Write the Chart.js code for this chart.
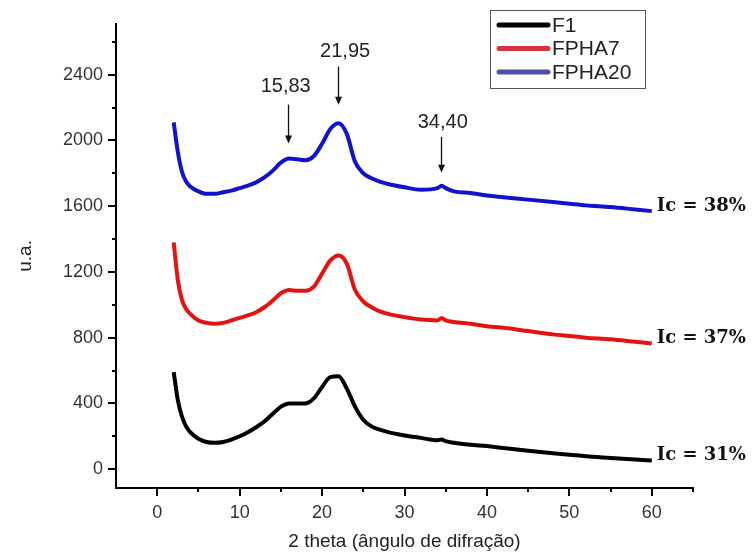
<!DOCTYPE html>
<html>
<head>
<meta charset="utf-8">
<script src="https://cdn.jsdelivr.net/npm/chart.js@4.4.0/dist/chart.umd.min.js"></script>
<style>
    html, body { margin: 0; padding: 0; background: #fff; }
    #wrap { width: 756px; height: 555px; }
</style>
</head>
<body>
<div id="wrap"><canvas id="xrdChart" width="756" height="555"></canvas></div>
<script>
// 2 theta (degrees)
const twoTheta = [2, 2.5, 3, 3.5, 4, 5, 6, 7, 8, 9, 10, 11, 12, 13, 14, 15, 16, 17, 18, 19, 20, 21, 22, 23, 24, 25, 26, 27, 28, 30, 32, 34, 34.5, 35, 36, 38, 40, 42, 45, 48, 50, 52, 55, 58, 60];

// intensities (u.a.)
const f1 = [590, 420, 320, 260, 225, 185, 165, 160, 165, 180, 200, 225, 255, 290, 335, 380, 400, 400, 400, 430, 500, 560, 565, 490, 380, 300, 260, 240, 225, 205, 190, 175, 180, 170, 160, 148, 140, 128, 112, 97, 88, 78, 68, 58, 52];
const fpha7 = [1380, 1150, 1030, 975, 945, 905, 890, 885, 890, 905, 920, 935, 955, 985, 1025, 1070, 1090, 1085, 1085, 1110, 1190, 1270, 1300, 1250, 1090, 1020, 985, 960, 945, 925, 910, 905, 920, 905, 895, 885, 870, 860, 840, 820, 810, 800, 790, 775, 765];
const fpha20 = [2110, 1930, 1810, 1750, 1720, 1690, 1675, 1675, 1685, 1695, 1710, 1725, 1745, 1775, 1815, 1865, 1890, 1885, 1880, 1905, 1980, 2070, 2105, 2040, 1870, 1800, 1770, 1750, 1735, 1715, 1700, 1710, 1725, 1710, 1690, 1680, 1665, 1655, 1640, 1625, 1615, 1605, 1595, 1580, 1570];

const seriesNames = ['F1', 'FPHA7', 'FPHA20'];
const seriesValues = [f1, fpha7, fpha20];
const crystallinity = ['Ic = 31%', 'Ic = 37%', 'Ic = 38%'];

// peak markers
const peakPositions = [15.83, 21.95, 34.40];
const peakLabels = ['15,83', '21,95', '34,40'];
const arrowTail = [2218, 2450, 2022];
const arrowTip = [1981, 2218, 1803];
const labelLevel = [2331, 2539, 2111];

// axis ticks
const xTicks = [0, 10, 20, 30, 40, 50, 60];
const xMinorTicks = [5, 15, 25, 35, 45, 55, 65];
const yTicks = [0, 400, 800, 1200, 1600, 2000, 2400];
const yMinorTicks = [200, 600, 1000, 1400, 1800, 2200, 2600];

const lineColors = ['#000000', '#e41212', '#1212cc'];
const legendColors = ['#000000', '#d4323c', '#4b4fa6'];
const sansFont = '"Liberation Sans", Arial, sans-serif';

// Minor and major tick marks drawn outside the plot
const tickMarks = {
    id: 'tickMarks',
    afterDraw(chart) {
        const { ctx, chartArea, scales: { x, y } } = chart;
        ctx.save();
        ctx.strokeStyle = '#000';
        ctx.lineWidth = 2;
        ctx.beginPath();
        xTicks.forEach(v => {
            const px = Math.round(x.getPixelForValue(v));
            ctx.moveTo(px, chartArea.bottom);
            ctx.lineTo(px, chartArea.bottom + 8);
        });
        xMinorTicks.forEach(v => {
            const px = Math.round(x.getPixelForValue(v));
            ctx.moveTo(px, chartArea.bottom);
            ctx.lineTo(px, chartArea.bottom + 4);
        });
        yTicks.forEach(v => {
            const py = Math.round(y.getPixelForValue(v));
            ctx.moveTo(chartArea.left, py);
            ctx.lineTo(chartArea.left - 8, py);
        });
        yMinorTicks.forEach(v => {
            const py = Math.round(y.getPixelForValue(v));
            ctx.moveTo(chartArea.left, py);
            ctx.lineTo(chartArea.left - 4, py);
        });
        ctx.stroke();
        ctx.restore();
    }
};

// Peak arrows, crystallinity labels and the boxed legend
const annotations = {
    id: 'annotations',
    afterDraw(chart) {
        const { ctx, scales: { x, y } } = chart;
        ctx.save();

        // arrows
        ctx.strokeStyle = '#111';
        ctx.fillStyle = '#111';
        ctx.lineWidth = 1.3;
        peakPositions.forEach((p, i) => {
            const px = Math.round(x.getPixelForValue(p)) + 0.5;
            const y0 = y.getPixelForValue(arrowTail[i]);
            const y1 = y.getPixelForValue(arrowTip[i]);
            ctx.beginPath();
            ctx.moveTo(px, y0);
            ctx.lineTo(px, y1 - 6);
            ctx.stroke();
            ctx.beginPath();
            ctx.moveTo(px - 3.5, y1 - 8);
            ctx.lineTo(px + 3.5, y1 - 8);
            ctx.lineTo(px, y1);
            ctx.closePath();
            ctx.fill();
        });

        ctx.fillStyle = '#222';
        ctx.font = '20px ' + sansFont;
        ctx.textAlign = 'center';
        ctx.textBaseline = 'middle';
        const labelShift = [-2, 7, 2];
        peakPositions.forEach((p, i) => {
            ctx.fillText(peakLabels[i], x.getPixelForValue(p) + labelShift[i], y.getPixelForValue(labelLevel[i]));
        });

        // Ic labels next to the end of every curve
        ctx.fillStyle = '#111';
        ctx.font = 'bold 18px "DejaVu Serif", serif';
        ctx.textAlign = 'left';
        seriesValues.forEach((vals, i) => {
            const last = vals.length - 1;
            ctx.fillText(crystallinity[i], x.getPixelForValue(twoTheta[last]) + 5, y.getPixelForValue(vals[last]) - 5);
        });

        // legend
        const boxX = 490, boxY = 10, boxW = 155, boxH = 78;
        ctx.strokeStyle = '#555';
        ctx.lineWidth = 1;
        ctx.strokeRect(boxX + 0.5, boxY + 0.5, boxW, boxH);
        ctx.font = '21px ' + sansFont;
        ctx.fillStyle = '#222';
        ctx.lineCap = 'round';
        seriesNames.forEach((name, i) => {
            const ly = boxY + 15 + i * 23.5;
            ctx.strokeStyle = legendColors[i];
            ctx.lineWidth = 5;
            ctx.beginPath();
            ctx.moveTo(boxX + 9, ly);
            ctx.lineTo(boxX + 58, ly);
            ctx.stroke();
            ctx.fillText(name, boxX + 62, ly + 1);
        });
        ctx.restore();
    }
};

const ctx = document.getElementById('xrdChart').getContext('2d');
new Chart(ctx, {
    type: 'line',
    data: {
        datasets: seriesNames.map((name, i) => ({
            label: name,
            data: twoTheta.map((t, j) => ({ x: t, y: seriesValues[i][j] })),
            borderColor: lineColors[i],
            borderWidth: 4,
            pointRadius: 0,
            cubicInterpolationMode: 'monotone',
            fill: false
        }))
    },
    options: {
        responsive: false,
        animation: false,
        layout: { padding: { top: 16, right: 63, left: 0, bottom: 0 } },
        plugins: {
            legend: { display: false },
            tooltip: { enabled: false }
        },
        scales: {
            x: {
                type: 'linear',
                min: -5,
                max: 65,
                afterBuildTicks: scale => { scale.ticks = xTicks.map(v => ({ value: v })); },
                afterFit: scale => { scale.height = 67; },
                grid: { display: false, drawTicks: false },
                border: { display: true, color: '#000', width: 2 },
                ticks: {
                    padding: 14,
                    color: '#333',
                    callback: v => String(v),
                    font: { size: 18, family: sansFont }
                },
                title: {
                    display: true,
                    text: '2 theta (ângulo de difração)',
                    color: '#222',
                    padding: { top: 0, bottom: 2 },
                    font: { size: 19, family: sansFont }
                }
            },
            y: {
                min: -115,
                max: 2710,
                afterBuildTicks: scale => { scale.ticks = yTicks.map(v => ({ value: v })); },
                afterFit: scale => { scale.width = 116; },
                grid: { display: false, drawTicks: false },
                border: { display: true, color: '#000', width: 2 },
                ticks: {
                    padding: 13,
                    color: '#333',
                    callback: v => String(v),
                    font: { size: 18, family: sansFont }
                },
                title: {
                    display: true,
                    text: 'u.a.',
                    color: '#222',
                    padding: { top: 14, bottom: 0 },
                    font: { size: 19, family: sansFont }
                }
            }
        }
    },
    plugins: [tickMarks, annotations]
});
</script>
</body>
</html>
